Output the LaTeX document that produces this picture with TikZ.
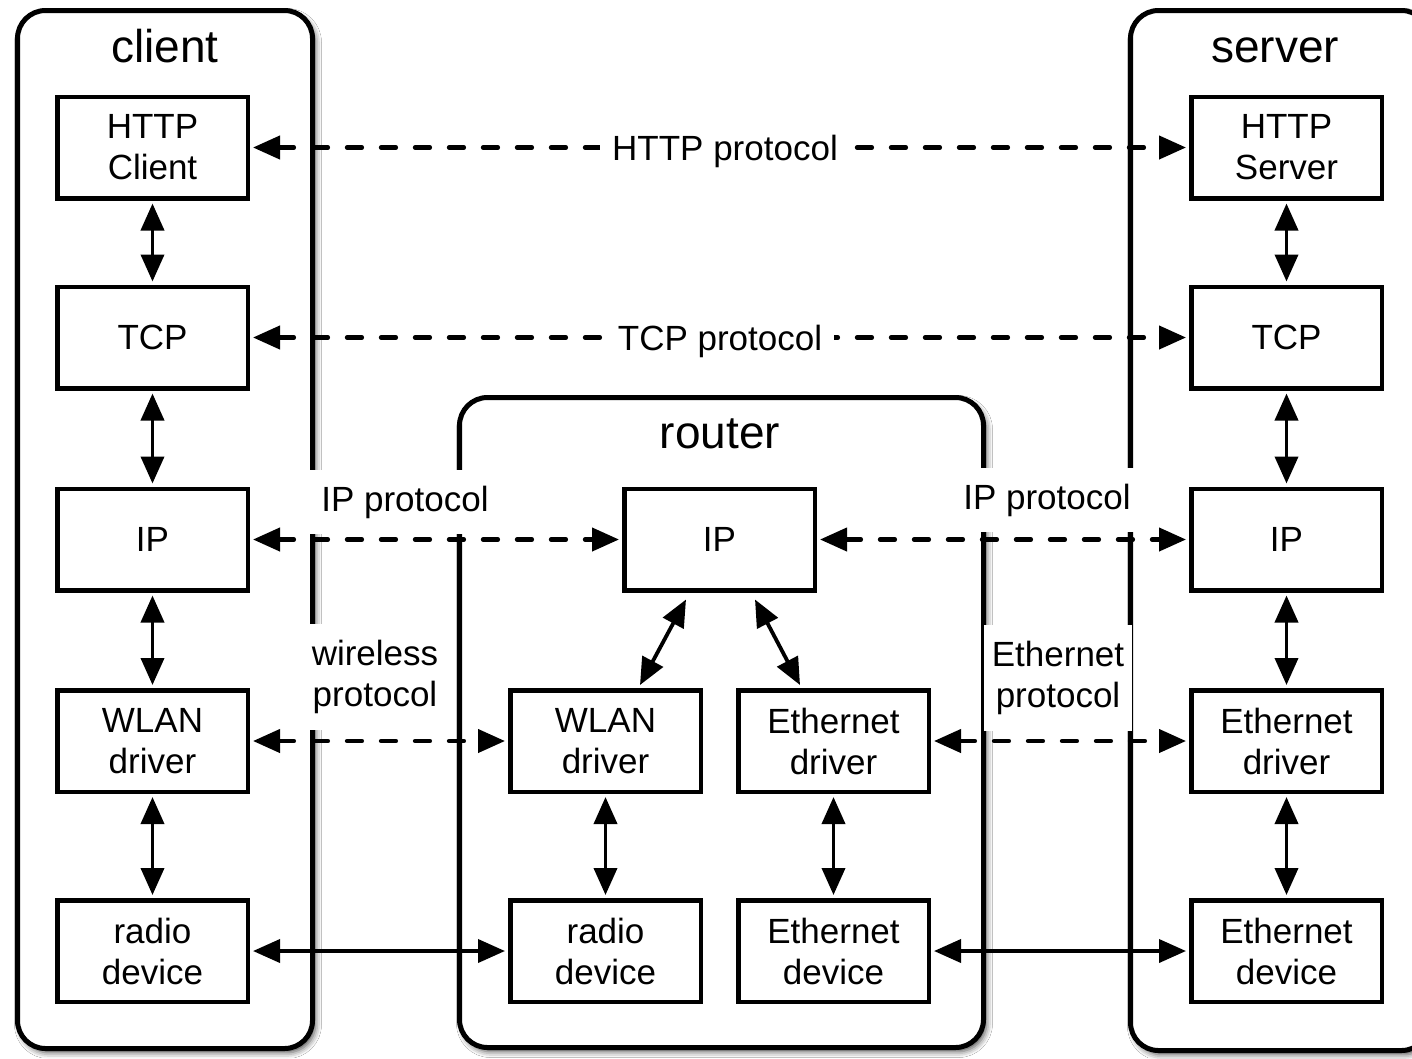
\documentclass[tikz,border=0pt]{standalone}
\usepackage{fontspec}
\setmainfont{Liberation Sans}
\usetikzlibrary{arrows.meta,shadows.blur,calc}
\begin{document}
\begin{tikzpicture}[x=1pt,y=-1pt,
  >={Triangle[length=27pt,width=23pt]},
  cont/.style={draw, line width=5pt, rounded corners=28pt, fill=white, inner sep=0pt,
    blur shadow={shadow xshift=3pt, shadow yshift=-4pt, shadow blur radius=6pt, shadow opacity=70}},
  title/.style={font={\fontsize{46pt}{50pt}\selectfont}, anchor=base, inner sep=0pt},
  box/.style={draw, line width=4.5pt, fill=white, minimum width=190.5pt, minimum height=101.5pt,
    align=center, inner sep=0pt, font={\fontsize{35pt}{41pt}\selectfont}},
  lbl/.style={fill=white, align=center, inner xsep=12pt, inner ysep=16pt,
    font={\fontsize{35pt}{41pt}\selectfont}},
  arr/.style={line width=3.8pt, <->, shorten <=3pt, shorten >=3pt},
  darr/.style={arr, line width=4.2pt, line cap=round, dash pattern=on 15pt off 19pt},
]
\useasboundingbox (0,0) rectangle (1412,1058);
\fill[white] (0,0) rectangle (1412,1058);

% containers
\node[cont, minimum width=295pt, minimum height=1038pt] (client) at (165,529.5) {};
\node[cont, minimum width=299pt, minimum height=1040pt] (server) at (1280,530.5) {};
\node[lbl, inner xsep=7.5pt] (wlp) at (375,677) {wireless\\protocol};
\node[cont, minimum width=524pt, minimum height=650pt] (router) at (721.5,722.5) {};
\node[lbl, inner xsep=7.5pt] (elp) at (1058,678) {Ethernet\\protocol};
\node[lbl, anchor=base] (ipl) at (405,511) {IP protocol};
\node[lbl, anchor=base] (ipr) at (1047,509) {IP protocol};

\node[title] (tclient) at (165,62) {client};
\node[title] (tserver) at (1275,62) {server};
\node[title] (trouter) at (720,448) {router};

% client stack
\node[box] (chttp) at (152.5,147.5) {HTTP\\Client};
\node[box] (ctcp) at (152.5,337.5) {TCP};
\node[box] (cip) at (152.5,539.5) {IP};
\node[box] (cwlan) at (152.5,741) {WLAN\\driver};
\node[box] (cradio) at (152.5,951) {radio\\device};

% server stack
\node[box] (shttp) at (1286.5,147.5) {HTTP\\Server};
\node[box] (stcp) at (1286.5,337.5) {TCP};
\node[box] (sip) at (1286.5,539.5) {IP};
\node[box] (seth) at (1286.5,741) {Ethernet\\driver};
\node[box] (sethd) at (1286.5,951) {Ethernet\\device};

% router
\node[box] (rip) at (719.5,539.5) {IP};
\node[box] (rwlan) at (605.5,741) {WLAN\\driver};
\node[box] (reth) at (833.5,741) {Ethernet\\driver};
\node[box] (rradio) at (605.5,951) {radio\\device};
\node[box] (rethd) at (833.5,951) {Ethernet\\device};

% vertical connectors
\foreach \a/\b in {chttp/ctcp, ctcp/cip, cip/cwlan, cwlan/cradio,
                   shttp/stcp, stcp/sip, sip/seth, seth/sethd,
                   rwlan/rradio, reth/rethd}
  \draw[arr] (\a.south) -- (\b.north);
\draw[arr, shorten <=0pt, shorten >=0pt] ($(rip.south)+(-33.5,7)$) -- ($(rwlan.north)+(34.5,-3)$);
\draw[arr, shorten <=0pt, shorten >=0pt] ($(rip.south)+(35.5,7)$) -- ($(reth.north)+(-33.5,-3)$);

% horizontal connectors
\draw[darr] (chttp.east) -- (shttp.west);
\draw[darr] (ctcp.east) -- (stcp.west);
\draw[darr] (cip.east) -- (rip.west);
\draw[darr] (rip.east) -- (sip.west);
\draw[darr] (cwlan.east) -- (rwlan.west);
\draw[darr] (reth.east) -- (seth.west);
\draw[arr] (cradio.east) -- (rradio.west);
\draw[arr] (rethd.east) -- (sethd.west);

% labels on dashed lines
\node[lbl, anchor=base] (httpl) at (725,160) {HTTP protocol};
\node[lbl, anchor=base] (tcpl) at (720,350) {TCP protocol};
\end{tikzpicture}
\end{document}
